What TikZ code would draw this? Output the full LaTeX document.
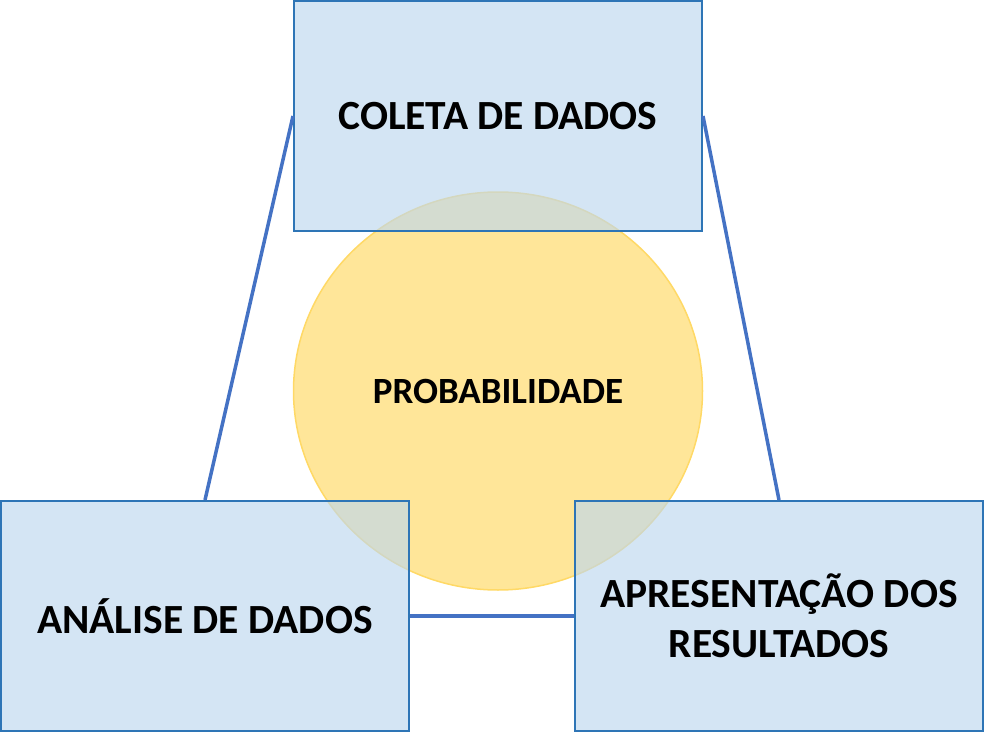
\documentclass[tikz,border=0pt]{standalone}
\usepackage{fontspec}
\setmainfont{Carlito}
\usetikzlibrary{shapes.geometric}
\definecolor{boxfill}{HTML}{BDD7EE}
\definecolor{boxline}{HTML}{2E75B6}
\definecolor{linkcol}{HTML}{4472C4}
\definecolor{circfill}{HTML}{FFE699}
\definecolor{circline}{HTML}{FFD966}
\begin{document}
\begin{tikzpicture}[
  x=1pt, y=-1pt,
  stage/.style={rectangle, draw=boxline, line width=2pt, fill=boxfill, fill opacity=0.65, text opacity=1,
    minimum width=408pt, minimum height=230pt, align=center, font=\bfseries\fontsize{41.5}{50}\selectfont},
  core/.style={ellipse, draw=circline, line width=1.5pt, fill=circfill, inner sep=0pt,
    minimum width=409pt, minimum height=398pt, font=\bfseries\fontsize{37}{44}\selectfont},
  link/.style={draw=linkcol, line width=3.5pt}
]
\useasboundingbox (0,0) rectangle (993,733);
\node[core] (prob) at (498,391) {PROBABILIDADE};

\node[stage] (coleta) at (498,116) {COLETA DE DADOS};
\node[stage] (analise) at (205,616) {ANÁLISE DE DADOS};
\node[stage] (apres) at (779,616) {APRESENTAÇÃO DOS\\RESULTADOS};

\draw[link] (coleta.west) -- (analise.north);
\draw[link] (coleta.east) -- (apres.north);
\draw[link] (analise.east) -- (apres.west);
\end{tikzpicture}
\end{document}
